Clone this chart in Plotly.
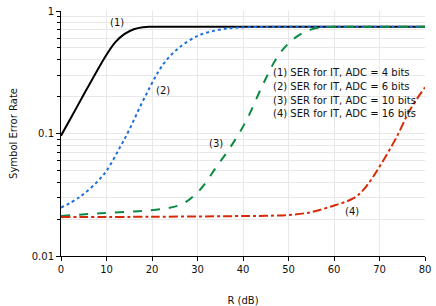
import math
import plotly.graph_objects as go

r1 = [0, 2.5, 5, 7.5, 10, 12, 14, 16, 18, 20, 30, 40, 50, 60, 70, 80]
ser1 = [0.096, 0.141, 0.208, 0.305, 0.44, 0.56, 0.65, 0.71, 0.738, 0.743, 0.743, 0.743, 0.743, 0.743, 0.743, 0.743]

r2 = [0, 4.2, 9.3, 13, 15.2, 17.4, 19.6, 21.4, 23.2, 26.2, 30.5, 35, 39, 45, 50, 60, 70, 80]
ser2 = [0.0248, 0.0305, 0.0458, 0.0776, 0.111, 0.166, 0.241, 0.32, 0.398, 0.511, 0.637, 0.705, 0.732, 0.742, 0.743, 0.743, 0.743, 0.743]

r3 = [0, 8.6, 17, 23.2, 26.9, 30.5, 34.2, 37.3, 40.8, 44.5, 48.1, 51.8, 55.4, 58.4, 65, 70, 80]
ser3 = [0.0212, 0.0223, 0.0232, 0.0245, 0.0269, 0.0346, 0.0537, 0.078, 0.129, 0.257, 0.452, 0.617, 0.715, 0.74, 0.743, 0.743, 0.743]

r4 = [0, 20, 40, 45, 50, 55, 59.1, 64.2, 66.5, 68.6, 70.9, 73.8, 76.7, 80]
ser4 = [0.0208, 0.0209, 0.0212, 0.0213, 0.0216, 0.0228, 0.0252, 0.0295, 0.0348, 0.0444, 0.0608, 0.094, 0.156, 0.238]

legend_lines = ["(1) SER for IT, ADC = 4 bits", "(2) SER for IT, ADC = 6 bits",
                "(3) SER for IT, ADC = 10 bits", "(4) SER for IT, ADC = 16 bits"]
curve_labels = ["(1)", "(2)", "(3)", "(4)"]
label_pos_x = [12.3, 22.4, 34.1, 64.0]
label_pos_y = [0.8, 0.226, 0.0836, 0.023]

font = "DejaVu Sans, Verdana, sans-serif"

fig = go.Figure()
styles = [("#000000", "solid"), ("#1a6fe0", "dot"), ("#0b8a45", "dash"), ("#d92a06", "dashdot")]
for (x, y), (c, d) in zip([(r1, ser1), (r2, ser2), (r3, ser3), (r4, ser4)], styles):
    fig.add_trace(go.Scatter(x=x, y=y, mode="lines",
                             line=dict(color=c, dash=d, width=2, shape="spline", smoothing=1.0),
                             showlegend=False))

for t, xx, yy in zip(curve_labels, label_pos_x, label_pos_y):
    fig.add_annotation(x=xx, y=math.log10(yy), text=t, showarrow=False,
                       font=dict(size=10, color="#111", family=font))

for i, line in enumerate(legend_lines):
    py = 72 + 14 * i
    fig.add_annotation(xref="x", yref="paper", x=46.1, y=1 - (py - 11) / 245, xanchor="left", yanchor="middle",
                       text=line, showarrow=False, font=dict(size=10, color="#111", family=font))

fig.update_layout(
    width=436, height=306, margin=dict(l=61, r=11, t=11, b=50),
    paper_bgcolor="white", plot_bgcolor="white",
    font=dict(family=font, size=10, color="#111"),
)
fig.update_xaxes(range=[0, 80], dtick=10, showline=True, linecolor="black", linewidth=1, automargin=False,
                 ticks="outside", ticklen=4, tickcolor="black", gridcolor="#e8e8e8", zeroline=False,
                 title=dict(text="R (dB)", font=dict(size=10), standoff=22))
fig.update_yaxes(type="log", range=[-2, 0], tickvals=[0.01, 0.1, 1], ticktext=["0.01", "0.1", "1"],
                 showline=True, linecolor="black", linewidth=1, ticks="outside", ticklen=4, tickcolor="black",
                 automargin=False,
                 minor=dict(tickvals=[k * 10 ** e for e in (-2, -1) for k in range(2, 10)], ticks="outside",
                            ticklen=3, tickcolor="black", showgrid=True, gridcolor="#e8e8e8"),
                 gridcolor="#e8e8e8", zeroline=False,
                 title=dict(text="Symbol Error Rate", font=dict(size=10), standoff=12))

fig.write_html("out.html", config={"displayModeBar": False},
               post_script="document.body.style.margin='0';")
